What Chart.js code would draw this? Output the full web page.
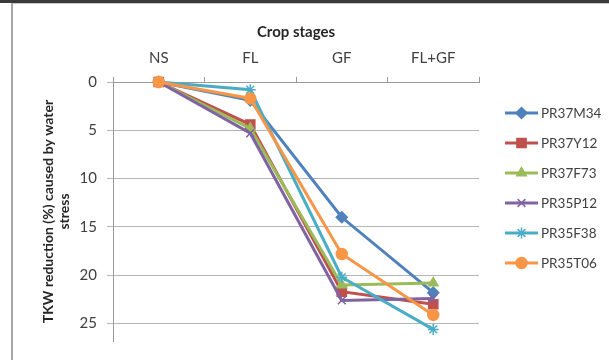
<!DOCTYPE html>
<html>
<head>
<meta charset="utf-8">
<script src="https://cdn.jsdelivr.net/npm/chart.js@4"></script>
<style>
  html, body { margin: 0; padding: 0; background: #fff; }
  #wrap { width: 609px; height: 360px; }
</style>
</head>
<body>
<div id="wrap"><canvas id="tkwChart" width="609" height="360"></canvas></div>
<script>
// Crop stages and TKW reduction (%) per hybrid
const stages = ['NS', 'FL', 'GF', 'FL+GF'];
const hybrids = ['PR37M34', 'PR37Y12', 'PR37F73', 'PR35P12', 'PR35F38', 'PR35T06'];
const pr37m34 = [0, 1.9, 14.0, 21.8];
const pr37y12 = [0, 4.4, 21.7, 23.0];
const pr37f73 = [0, 4.8, 21.0, 20.8];
const pr35p12 = [0, 5.3, 22.6, 22.4];
const pr35f38 = [0, 0.8, 20.2, 25.6];
const pr35t06 = [0, 1.7, 17.8, 24.1];
const yTicks = [0, 5, 10, 15, 20, 25];

const colors = ['#4F81BD', '#C0504D', '#9BBB59', '#8064A2', '#4BACC6', '#F79646'];
const markers = ['rectRot', 'rect', 'triangle', 'crossRot', 'star', 'circle'];
const markerSize = [5.5, 6.5, 5.5, 5.5, 5.5, 5.5];
const seriesData = [pr37m34, pr37y12, pr37f73, pr35p12, pr35f38, pr35t06];

const font = "Lato, 'Open Sans', sans-serif";

// frame + custom legend (line with marker, like the spreadsheet one)
const framePlugin = {
    id: 'frame',
    beforeDraw(chart) {
        const ctx = chart.ctx;
        ctx.save();
        ctx.fillStyle = '#fff';
        ctx.fillRect(0, 0, chart.width, chart.height);
        ctx.fillStyle = '#3a3a3a';
        ctx.fillRect(0, 0, chart.width, 3);
        ctx.fillStyle = '#c8c8c8';
        ctx.fillRect(11, 3, chart.width - 11, 1);
        ctx.fillStyle = '#a8a8a8';
        ctx.fillRect(11, 3, 2, chart.height - 3);
        ctx.restore();
    },
    afterDraw(chart) {
        const ctx = chart.ctx;
        ctx.save();
        const x0 = 505, x1 = 538, y0 = 113, step = 30;
        chart.data.datasets.forEach(function(ds, i) {
            const y = y0 + i * step;
            ctx.strokeStyle = ds.borderColor;
            ctx.lineWidth = 3;
            ctx.beginPath();
            ctx.moveTo(x0, y);
            ctx.lineTo(x1, y);
            ctx.stroke();
            ctx.fillStyle = ds.pointBackgroundColor;
            ctx.strokeStyle = ds.pointBorderColor;
            ctx.lineWidth = 1.5;
            Chart.helpers.drawPoint(ctx, {
                pointStyle: ds.pointStyle,
                radius: ds.pointRadius,
                rotation: 0,
                borderWidth: 1.5
            }, (x0 + x1) / 2, y);
            ctx.fillStyle = '#404040';
            ctx.font = "13.5px " + font;
            ctx.textBaseline = 'middle';
            ctx.textAlign = 'left';
            ctx.fillText(ds.label, x1 + 3, y + 1);
        });
        ctx.restore();
    }
};

const datasets = hybrids.map(function(name, i) {
    return {
        label: name,
        data: seriesData[i],
        borderColor: colors[i],
        backgroundColor: colors[i],
        pointBackgroundColor: colors[i],
        pointBorderColor: colors[i],
        pointStyle: markers[i],
        pointRadius: markerSize[i],
        pointBorderWidth: 1.5,
        borderWidth: 3,
        tension: 0,
        clip: false,
        order: hybrids.length - 1 - i
    };
});

new Chart(document.getElementById('tkwChart'), {
    type: 'line',
    data: {
        labels: stages,
        datasets: datasets
    },
    options: {
        responsive: false,
        animation: false,
        layout: {
            padding: { left: 0, right: 130, top: 0, bottom: 8 }
        },
        plugins: {
            legend: { display: false },
            tooltip: { enabled: false }
        },
        scales: {
            x: {
                position: 'top',
                offset: true,
                afterFit: function(scale) { scale.height = 82; },
                grid: {
                    offset: true,
                    drawOnChartArea: false,
                    tickLength: 5,
                    color: '#999'
                },
                border: { color: '#999' },
                ticks: {
                    color: '#404040',
                    padding: 10,
                    font: { family: font, size: 15 }
                },
                title: {
                    display: true,
                    text: 'Crop stages',
                    color: '#262626',
                    padding: { top: 23, bottom: 0 },
                    font: { family: font, size: 15, weight: 'bold' }
                }
            },
            y: {
                reverse: true,
                min: 0,
                max: 26.8,
                afterFit: function(scale) { scale.width = 113; },
                afterBuildTicks: function(scale) {
                    scale.ticks = yTicks.map(function(v) { return { value: v }; });
                },
                grid: {
                    color: '#b5b5b5',
                    tickLength: 6
                },
                border: { color: '#999' },
                ticks: {
                    color: '#404040',
                    padding: 10,
                    font: { family: font, size: 15 }
                },
                title: {
                    display: true,
                    text: ['TKW reduction (%) caused by water', 'stress'],
                    color: '#262626',
                    padding: { top: 40, bottom: 0 },
                    font: { family: font, size: 14, weight: 'bold', lineHeight: 1.15 }
                }
            }
        }
    },
    plugins: [framePlugin]
});
</script>
</body>
</html>
